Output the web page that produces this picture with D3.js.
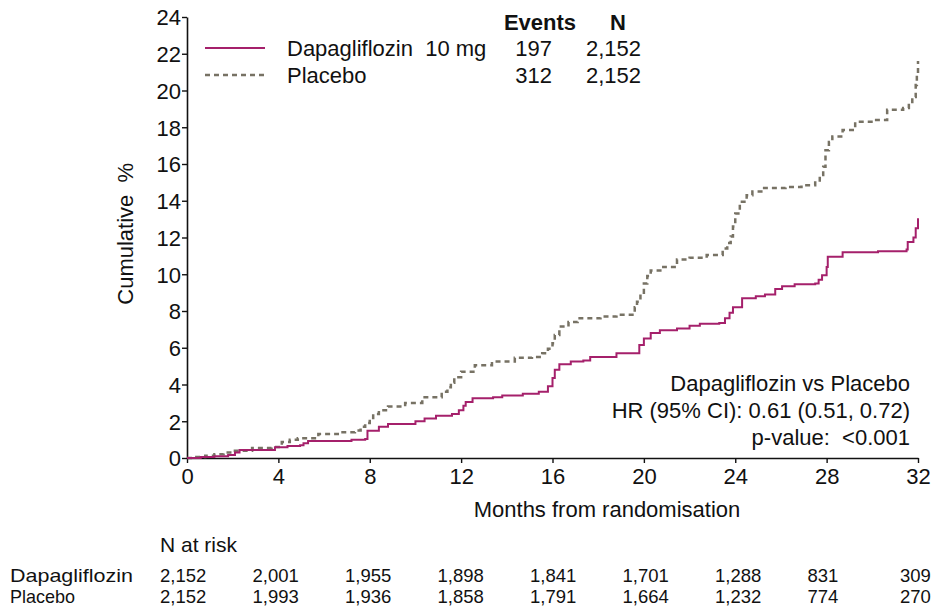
<!DOCTYPE html>
<html>
<head>
<meta charset="utf-8">
<script src="https://cdn.jsdelivr.net/npm/d3@7"></script>
<style>
  body { margin: 0; background: #fff; }
  svg text { font-family: Arial, "Liberation Sans", sans-serif; fill: #111; white-space: pre; }
</style>
</head>
<body>
<div id="km-chart"></div>
<script>
// step curves: [month, cumulative %]
const dapaCurve = [
  [0, 0], [0.6, 0.05], [1.2, 0.1], [1.8, 0.16], [2.1, 0.3], [2.3, 0.44], [3.85, 0.58], [4.4, 0.65],
  [4.95, 0.7], [5.1, 0.8], [5.3, 0.92], [7.2, 1.0], [7.8, 1.03], [7.9, 1.48], [8.4, 1.7], [8.8, 1.85],
  [10.0, 2.0], [10.4, 2.15], [10.9, 2.3], [11.6, 2.4], [11.9, 2.6], [12.1, 2.85], [12.2, 3.05], [12.5, 3.25],
  [13.4, 3.3], [13.8, 3.4], [14.7, 3.5], [15.4, 3.6], [15.8, 3.9], [16.0, 4.35], [16.1, 4.8], [16.3, 5.1],
  [16.8, 5.25], [17.35, 5.3], [17.65, 5.5], [18.8, 5.7], [19.8, 6.15], [20.0, 6.5], [20.3, 6.8], [20.7, 6.95],
  [21.45, 7.05], [22.0, 7.2], [22.45, 7.3], [23.3, 7.35], [23.55, 7.6], [23.75, 7.9], [23.9, 8.2], [24.3, 8.7],
  [24.9, 8.8], [25.3, 8.9], [25.75, 9.2], [26.05, 9.35], [26.6, 9.45], [27.5, 9.5], [27.65, 9.7], [27.8, 9.95],
  [28.0, 10.4], [28.05, 10.95], [28.7, 11.2], [30.25, 11.25], [31.5, 11.35], [31.55, 11.75], [31.8, 12.0],
  [31.9, 12.5], [32.0, 13.05]
]
const placeboCurve = [
  [0, 0], [0.35, 0.05], [0.8, 0.12], [1.2, 0.2], [1.6, 0.3], [2.0, 0.4], [2.85, 0.55], [3.7, 0.6],
  [4.15, 0.87], [4.5, 1.0], [4.85, 1.08], [5.75, 1.3], [6.6, 1.4], [7.35, 1.5], [7.6, 1.7], [7.8, 1.9],
  [8.0, 2.1], [8.15, 2.4], [8.4, 2.6], [8.8, 2.8], [9.55, 3.0], [10.3, 3.3], [11.15, 3.6], [11.4, 3.85],
  [11.55, 4.1], [11.7, 4.4], [12.0, 4.7], [12.6, 5.05], [13.35, 5.25], [14.35, 5.45], [15.1, 5.5], [15.55, 5.7],
  [15.8, 5.95], [16.0, 6.25], [16.1, 6.7], [16.3, 7.15], [16.7, 7.4], [17.1, 7.6], [18.1, 7.7], [18.8, 7.8],
  [19.5, 7.95], [19.6, 8.2], [19.7, 8.5], [19.85, 9.0], [20.0, 9.5], [20.15, 9.9], [20.3, 10.2], [20.85, 10.4],
  [21.45, 10.8], [22.0, 10.9], [22.75, 11.05], [23.45, 11.4], [23.65, 11.7], [23.8, 12.05], [23.9, 12.6],
  [24.0, 13.3], [24.2, 13.95], [24.5, 14.3], [24.75, 14.5], [25.2, 14.7], [26.2, 14.75], [26.9, 14.85],
  [27.5, 15.1], [27.7, 15.4], [27.85, 15.85], [27.95, 16.75], [28.1, 17.2], [28.25, 17.5], [28.7, 17.85],
  [29.25, 18.3], [30.1, 18.4], [30.65, 18.95], [31.35, 19.05], [31.6, 19.3], [31.75, 19.65], [31.9, 20.3],
  [31.95, 20.9], [32.0, 21.6]
]

const seriesNames = ["Dapagliflozin  10 mg", "Placebo"]
const seriesEvents = ["197", "312"]
const seriesN = ["2,152", "2,152"]

const xTicks = [0, 4, 8, 12, 16, 20, 24, 28, 32]
const yTicks = [0, 2, 4, 6, 8, 10, 12, 14, 16, 18, 20, 22, 24]

const atRiskNames = ["Dapagliflozin", "Placebo"]
const dapaAtRisk = ["2,152", "2,001", "1,955", "1,898", "1,841", "1,701", "1,288", "831", "309"]
const placeboAtRisk = ["2,152", "1,993", "1,936", "1,858", "1,791", "1,664", "1,232", "774", "270"]

const hrLines = ["Dapagliflozin vs Placebo", "HR (95% CI): 0.61 (0.51, 0.72)", "p-value:  <0.001"]

function createKmChart() {
  const W = 940, H = 607
  const margin = { top: 17, left: 187 }
  const width = 731
  const height = 441
  const pink = "#a5206b"
  const grey = "#777264"
  const fs = "22px"

  const svg = d3.select("#km-chart").append("svg")
    .attr("width", W).attr("height", H)

  const g = svg.append("g").attr("transform", `translate(${margin.left},${margin.top})`)

  const x = d3.scaleLinear().domain([0, 32]).range([0, width])
  const y = d3.scaleLinear().domain([0, 24]).range([height, 0])

  const yAxis = g.append("g")
    .call(d3.axisLeft(y).tickValues(yTicks).tickSize(5).tickPadding(1).tickSizeOuter(0))
  yAxis.selectAll("text").attr("font-size", fs).attr("dy", "0.36em")

  const xAxis = g.append("g")
    .attr("transform", `translate(0,${height})`)
    .call(d3.axisBottom(x).tickValues(xTicks).tickSize(5).tickPadding(5).tickSizeOuter(0))
  xAxis.selectAll("text").attr("font-size", fs)

  g.selectAll(".domain").attr("stroke", "#111").attr("stroke-width", 1.6)
  g.selectAll(".tick line").attr("stroke", "#111").attr("stroke-width", 1.4)

  const line = d3.line()
    .x((d) => x(d[0]))
    .y((d) => y(d[1]))
    .curve(d3.curveStepAfter)

  g.append("path")
    .datum(placeboCurve)
    .attr("fill", "none")
    .attr("stroke", grey)
    .attr("stroke-width", 2.5)
    .attr("stroke-dasharray", "5,4")
    .attr("d", line)

  g.append("path")
    .datum(dapaCurve)
    .attr("fill", "none")
    .attr("stroke", pink)
    .attr("stroke-width", 2)
    .attr("d", line)

  // axis titles
  svg.append("text")
    .attr("x", 607)
    .attr("y", 517)
    .attr("text-anchor", "middle")
    .attr("font-size", fs)
    .text("Months from randomisation")

  svg.append("text")
    .attr("transform", `translate(133,${margin.top + y(12.2)}) rotate(-90)`)
    .attr("text-anchor", "middle")
    .attr("font-size", fs)
    .text("Cumulative  %")

  // legend
  const legend = svg.append("g")
  legend.append("text").attr("x", 540).attr("y", 30).attr("text-anchor", "middle")
    .attr("font-size", fs).attr("font-weight", "bold").text("Events")
  legend.append("text").attr("x", 618).attr("y", 30).attr("text-anchor", "middle")
    .attr("font-size", fs).attr("font-weight", "bold").text("N")

  const rows = legend.selectAll(".leg-row")
    .data(seriesNames)
    .enter()
    .append("g")
    .attr("transform", (d, i) => `translate(0,${48 + i * 27})`)

  rows.append("line")
    .attr("x1", 205).attr("x2", 265)
    .attr("stroke", (d, i) => (i === 0 ? pink : grey))
    .attr("stroke-width", (d, i) => (i === 0 ? 2 : 2.5))
    .attr("stroke-dasharray", (d, i) => (i === 0 ? null : "5,4"))
  rows.append("text").attr("x", 287).attr("y", 8).attr("font-size", fs).text((d) => d)
  rows.append("text").attr("x", 552).attr("y", 8).attr("text-anchor", "end")
    .attr("font-size", fs).text((d, i) => seriesEvents[i])
  rows.append("text").attr("x", 641).attr("y", 8).attr("text-anchor", "end")
    .attr("font-size", fs).text((d, i) => seriesN[i])

  // HR annotation
  svg.append("g").selectAll("text")
    .data(hrLines)
    .enter()
    .append("text")
    .attr("x", 910)
    .attr("y", (d, i) => 391 + i * 27)
    .attr("text-anchor", "end")
    .attr("font-size", fs)
    .text((d) => d)

  // numbers at risk
  const riskX = d3.scaleLinear().domain([0, 32]).range([160, 900])
  svg.append("text").attr("x", 160).attr("y", 552).attr("font-size", "21px").text("N at risk")

  const riskRows = svg.selectAll(".risk-row")
    .data([dapaAtRisk, placeboAtRisk])
    .enter()
    .append("g")
    .attr("transform", (d, i) => `translate(0,${582 + i * 21})`)

  riskRows.append("text")
    .attr("x", 10)
    .attr("font-size", "18.5px")
    .attr("textLength", (d, i) => (i === 0 ? 123 : 65))
    .attr("lengthAdjust", "spacingAndGlyphs")
    .text((d, i) => atRiskNames[i])
  riskRows.selectAll(".risk-val")
    .data((d) => d)
    .enter()
    .append("text")
    .attr("x", (d, i) => riskX(xTicks[i]))
    .attr("font-size", "18.5px")
    .text((d) => d)
}

createKmChart()
</script>
</body>
</html>
